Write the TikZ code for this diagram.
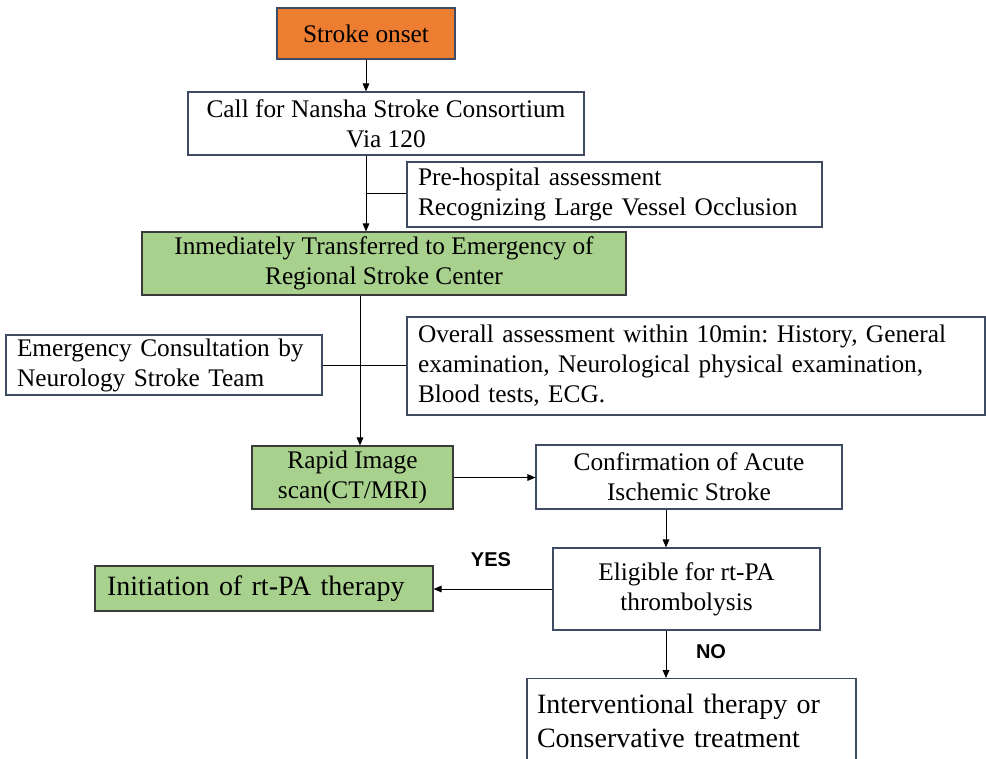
\documentclass[tikz,border=0pt]{standalone}
\usepackage{fontspec}
\setmainfont{Liberation Serif}
\newfontfamily\yesnofont{Liberation Sans}
\usetikzlibrary{calc,arrows.meta}
\frenchspacing

\definecolor{onsetorange}{HTML}{ED7D31}
\definecolor{stepgreen}{HTML}{A9D18E}
\definecolor{boxline}{HTML}{3E4B63}
\definecolor{greenline}{HTML}{3A3A3A}

\begin{document}
\begin{tikzpicture}[x=0.75pt, y=-0.75pt,
        box/.style={draw=boxline, line width=0.9pt, fill=white, inner sep=0pt,
            font=\fontsize{19}{22.5}\selectfont, align=center},
        greenbox/.style={box, draw=greenline, fill=stepgreen},
        leftbox/.style={box, align=left, inner xsep=8.25pt},
        flow/.style={-{Triangle[length=6pt,width=5pt]}, line width=0.75pt},
        tie/.style={line width=0.75pt},
        yesno/.style={font=\yesnofont\bfseries\fontsize{15}{18}\selectfont}]

        \useasboundingbox (0,0) rectangle (986,758);

        \node[box, fill=onsetorange, minimum width=133.5pt, minimum height=38.25pt] (onset) at (366,33.5) {Stroke onset};
        \node[box, minimum width=297pt, minimum height=47.25pt] (call) at (386,123.5) {Call for Nansha Stroke Consortium\\Via 120};
        \node[leftbox, text width=294.75pt, minimum height=48.75pt] (prehosp) at (614.5,194.5) {Pre-hospital assessment\\Recognizing Large Vessel Occlusion};
        \node[greenbox, minimum width=363pt, minimum height=47.25pt] (transfer) at (384,263.5) {Inmediately Transferred to Emergency of\\Regional Stroke Center};
        \node[leftbox, text width=220.5pt, minimum height=45pt] (consult) at (164,365) {Emergency Consultation by\\Neurology Stroke Team};
        \node[leftbox, text width=417pt, minimum height=73.5pt] (overall) at (696,366) {Overall assessment within 10min: History, General\\examination, Neurological physical examination,\\Blood tests, ECG.};
        \node[greenbox, minimum width=150.75pt, minimum height=47.25pt] (rapid) at (352.5,477.5) {Rapid Image\\scan(CT/MRI)};
        \node[box, minimum width=229.5pt, minimum height=48pt] (confirm) at (689,477) {Confirmation of Acute\\Ischemic Stroke};
        \node[box, minimum width=200.25pt, minimum height=61.5pt] (eligible) at (686.5,589) {Eligible for rt-PA\\thrombolysis};
        \node[greenbox, align=left, inner xsep=9pt, text width=235.5pt, minimum height=33.75pt,
            font=\fontsize{21}{25.5}\selectfont] (rtpa) at (264,588.5) {Initiation of rt-PA therapy};
        \node[leftbox, inner xsep=7.5pt, text width=231.75pt, minimum height=63pt,
            font=\fontsize{21}{25.5}\selectfont, anchor=north] (interv) at (691.5,678) {Interventional therapy or\\Conservative treatment};

        \node[yesno] (yes) at (491,560) {YES};
        \node[yesno] (no) at (711,652) {NO};

        \coordinate (drop) at (666,0);

        \draw[flow] (onset) -- (onset |- call.north);
        \draw[flow] (call.south -| onset) -- (transfer.north -| onset);
        \draw[tie] ($(prehosp.west -| onset)+(0,-1)$) -- ($(prehosp.west)+(0,-1)$);
        \draw[flow] ($(transfer.south -| onset)+(-6,0)$) -- ($(rapid.north -| onset)+(-6,0)$);
        \draw[tie] (consult.east) -- (consult.east -| overall.west);
        \draw[flow] (rapid.east) -- (rapid.east -| confirm.west);
        \draw[flow] (confirm.south -| drop) -- (eligible.north -| drop);
        \draw[flow] (eligible.west) -- (eligible.west -| rtpa.east);
        \draw[flow] (eligible.south -| drop) -- (interv.north -| drop);

    \end{tikzpicture}
\end{document}
